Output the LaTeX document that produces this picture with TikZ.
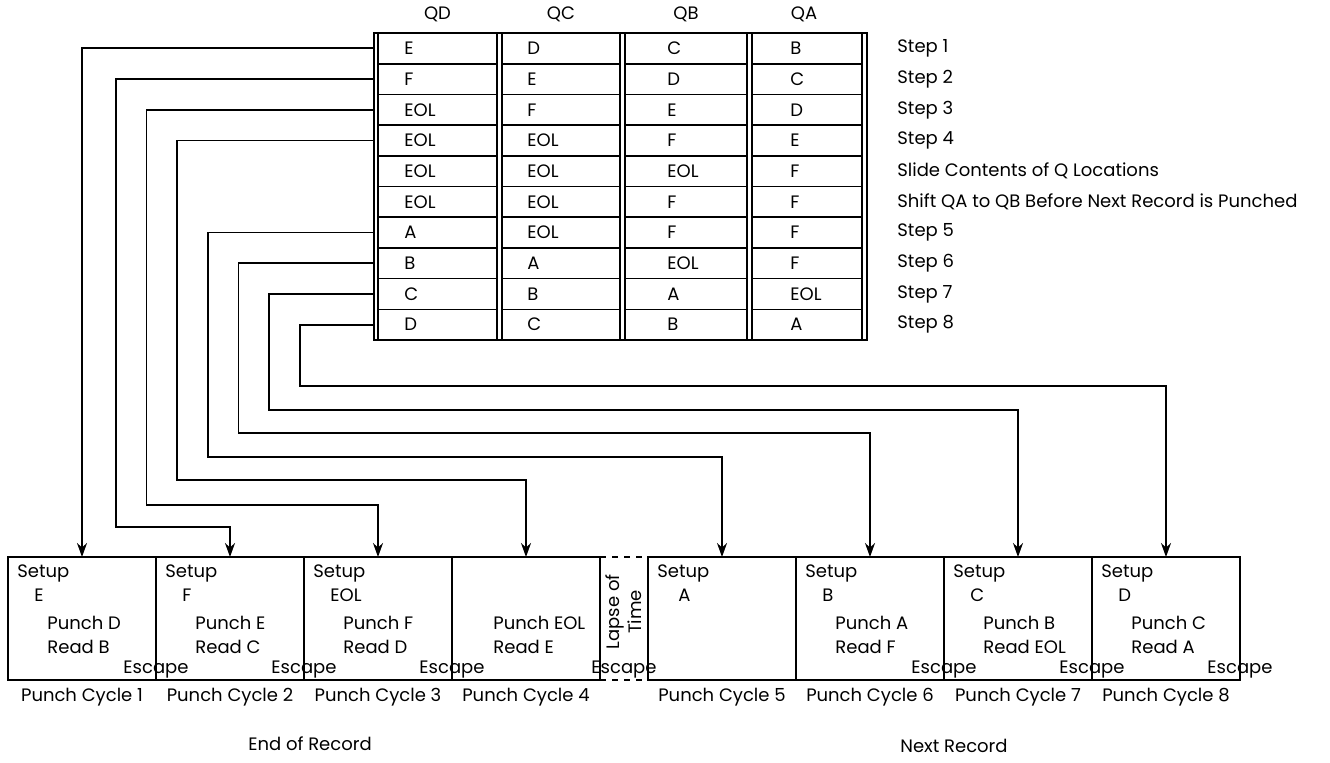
\documentclass[tikz,border=0pt]{standalone}
\usepackage{fontspec}
\setmainfont{Poppins}
\usetikzlibrary{arrows.meta,calc,positioning}

\tikzset{
  lbl/.style={font=\fontsize{9}{11}\selectfont, inner sep=0pt},
  entry/.style={lbl, anchor=west},
  steplbl/.style={lbl, anchor=west},
  cell/.style={draw, line width=0.8pt, minimum height=15.35pt, inner sep=0pt, outer sep=0pt},
  cycbox/.style={draw, line width=0.6pt, anchor=north west, minimum width=74pt, minimum height=61.5pt, inner sep=0pt, outer sep=0pt},
  conn/.style={line width=0.9pt, -{Stealth[length=7pt,width=5pt]}},
}

\begin{document}
\begin{tikzpicture}[x=0.5pt,y=-0.5pt,>=Stealth]
	\useasboundingbox (0,0) rectangle (1330,762);
	% Q locations
	\node[draw, line width=0.8pt, minimum width=246.5pt, minimum height=153.5pt, inner sep=0pt, outer sep=0pt] (frame) at (620.5,186.5) {};
	\node[lbl] (hqd) at (437.5,14) {QD};
	\node[lbl] (hqc) at (561,14) {QC};
	\node[lbl] (hqb) at (686,14) {QB};
	\node[lbl] (hqa) at (804,14) {QA};
	\foreach \r/\d/\c/\b/\a/\s in {1/E/D/C/B/Step 1, 2/F/E/D/C/Step 2, 3/EOL/F/E/D/Step 3, 4/EOL/EOL/F/E/Step 4, 5/EOL/EOL/EOL/F/Slide Contents of Q Locations, 6/EOL/EOL/F/F/Shift QA to QB Before Next Record is Punched, 7/A/EOL/F/F/Step 5, 8/B/A/EOL/F/Step 6, 9/C/B/A/EOL/Step 7, 10/D/C/B/A/Step 8}{
		\pgfmathsetmacro\y{17.65+30.7*\r}
		\node[cell, minimum width=59.5pt] (qd\r) at (437.5,\y) {};
		\node[cell, minimum width=59pt] (qc\r) at (561,\y) {};
		\node[cell, minimum width=61pt] (qb\r) at (686,\y) {};
		\node[cell, minimum width=55pt] (qa\r) at (807,\y) {};
		\node[entry] (tqd\r) at ([xshift=13pt]qd\r.west) {\d};
		\node[entry] (tqc\r) at ([xshift=12.5pt]qc\r.west) {\c};
		\node[entry] (tqb\r) at ([xshift=21pt]qb\r.west) {\b};
		\node[entry] (tqa\r) at ([xshift=19pt]qa\r.west) {\a};
		\node[steplbl] (s\r) at (897,\y) {\s};
	}
	% punch cycles
	\foreach \i/\x in {1/8,2/156,3/304,4/452,5/648,6/796,7/944,8/1092}{
		\node[cycbox] (box\i) at (\x,557) {};
		\node[lbl, below=4pt of box\i] (pc\i) {Punch Cycle \i};
	}
	\foreach \i/\v/\p/\q in {1/E/D/B, 2/F/E/C, 3/EOL/F/D, 6/B/A/F, 7/C/B/EOL, 8/D/C/A}{
		\node[entry] (su\i) at ([shift={(4.5pt,-8pt)}]box\i.north west) {Setup};
		\node[entry] (sv\i) at ([shift={(13pt,-19pt)}]box\i.north west) {\v};
		\node[entry] (pu\i) at ([shift={(19.5pt,-33pt)}]box\i.north west) {Punch \p};
		\node[entry] (rd\i) at ([shift={(19.5pt,-45pt)}]box\i.north west) {Read \q};
		\node[lbl, anchor=base] (es\i) at ([yshift=3.3pt]box\i.south east) {Escape};
	}
	\node[entry] (pu4) at ([shift={(20.5pt,-33pt)}]box4.north west) {Punch EOL};
	\node[entry] (rd4) at ([shift={(20.5pt,-45pt)}]box4.north west) {Read E};
	\node[entry] (su5) at ([shift={(4.5pt,-8pt)}]box5.north west) {Setup};
	\node[entry] (sv5) at ([shift={(15pt,-19pt)}]box5.north west) {A};
	% lapse of time
	\draw[dashed, line width=0.6pt] (box4.north east) -- (box5.north west);
	\draw[dashed, line width=0.6pt] (box4.south east) -- (box5.south west);
	\node[lbl, rotate=90, align=center] (lapse) at (624,612) {Lapse of\\Time};
	\node[lbl, anchor=base] (es4) at ([yshift=3.3pt]$(box4.south east)!0.5!(box5.south west)$) {Escape};
	\node[lbl] (eor) at (310,744) {End of Record};
	\node[lbl] (nrec) at (954,746) {Next Record};
	% connectors
	\draw[conn] (qd1.west -| frame.west) -| (box1.north);
	\foreach \r/\k/\lx/\ly in {2/2/115.7/527, 3/3/146.4/505, 4/4/177/480, 7/5/207.8/457, 8/6/238.5/433, 9/7/269/410, 10/8/300/386}
		\draw[conn] (qd\r.west -| frame.west) -| (\lx,\ly) -| (box\k.north);
\end{tikzpicture}
\end{document}
